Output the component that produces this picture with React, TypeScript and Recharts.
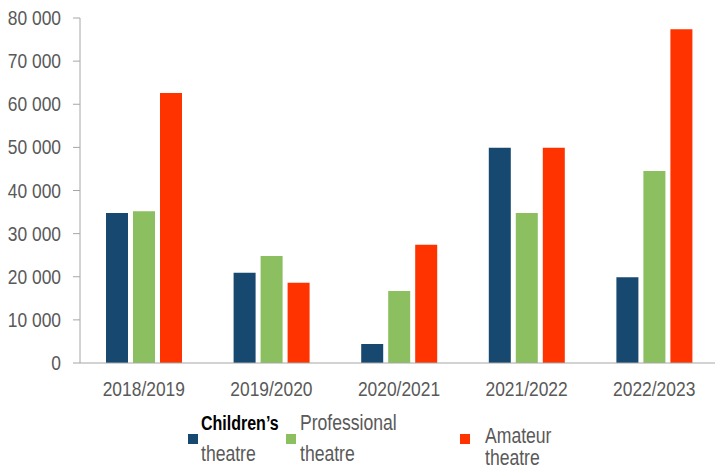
import { BarChart, Bar, XAxis, YAxis, Legend } from 'recharts'

const categories = ['2018/2019', '2019/2020', '2020/2021', '2021/2022', '2022/2023']
const childrens = [34800, 20900, 4400, 49900, 19900]
const professional = [35200, 24800, 16700, 34800, 44500]
const amateur = [62600, 18600, 27400, 49900, 77400]
const yTicks = [0, 10000, 20000, 30000, 40000, 50000, 60000, 70000, 80000]
const sepTicks = [0, 1, 2, 3, 4, 5]

const FONT = '"Liberation Sans", Arial, sans-serif'
const AXIS = '#a6a6a6'
const TEXT = '#595959'
const COLORS = { childrens: '#17486f', professional: '#8bbf5f', amateur: '#ff3300' }
// the reference uses a narrow face; squeeze Liberation Sans horizontally
const SQUEEZE = 0.87

const data = categories.map((name, i) => ({
  name,
  idx: i + 0.5,
  childrens: childrens[i],
  professional: professional[i],
  amateur: amateur[i],
}))

const fmt = (v: number) => (v === 0 ? '0' : `${Math.floor(v / 1000)} ${String(v % 1000).padStart(3, '0')}`)

const YTick = ({ x, y, payload }: any) => (
  <g transform={`translate(${x},${y})`}>
    <text textAnchor="end" dy="0.355em" transform={`scale(${SQUEEZE},1)`} fontSize={20} fill={TEXT} fontFamily={FONT}>
      {fmt(payload.value)}
    </text>
  </g>
)

const XTick = ({ x, y, payload }: any) => (
  <g transform={`translate(${x},${y})`}>
    <text textAnchor="middle" dy="0.71em" transform={`scale(${SQUEEZE},1)`} fontSize={20} fill={TEXT} fontFamily={FONT}>
      {payload.value}
    </text>
  </g>
)

const LegText = ({ x, y, children, bold }: any) => (
  <text
    transform={`translate(${x},${y}) scale(0.8,1)`}
    fontSize={bold ? 20 : 22}
    fontWeight={bold ? 'bold' : 'normal'}
    fill={bold ? '#000' : TEXT}
  >
    {children}
  </text>
)

function LegendBox() {
  return (
    <svg width={715} height={69} style={{ fontFamily: FONT, display: 'block' }}>
      <rect x={188} y={34} width={10} height={10} fill={COLORS.childrens} />
      <LegText x={201} y={30} bold>Children’s</LegText>
      <LegText x={201} y={61}>theatre</LegText>

      <rect x={286} y={34} width={10} height={10} fill={COLORS.professional} />
      <LegText x={300} y={30}>Professional</LegText>
      <LegText x={300} y={61}>theatre</LegText>

      <rect x={460} y={34} width={10} height={10} fill={COLORS.amateur} />
      <LegText x={485} y={43}>Amateur</LegText>
      <LegText x={485} y={65}>theatre</LegText>
    </svg>
  )
}

export default function App() {
  return (
    <div style={{ position: 'absolute', left: 0, top: 0, width: 715, height: 469, background: '#fff' }}>
      <BarChart
        width={715}
        height={469}
        data={data}
        margin={{ top: 18, right: -3, left: 0, bottom: 76 }}
        barCategoryGap="20%"
        barGap={5}
        barSize={22}
        style={{ fontFamily: FONT }}
      >
        <XAxis
          dataKey="name"
          stroke={AXIS}
          tickLine={false}
          tickSize={7}
          tickMargin={12}
          height={30}
          tick={<XTick />}
        />
        <XAxis
          xAxisId="sep"
          type="number"
          dataKey="idx"
          domain={[0, 5]}
          ticks={sepTicks}
          axisLine={false}
          tickLine={{ stroke: AXIS }}
          tickSize={7}
          tickFormatter={() => ''}
          height={0}
        />
        <YAxis
          domain={[0, 80000]}
          ticks={yTicks}
          stroke={AXIS}
          tickSize={7}
          tickMargin={12}
          width={80}
          tick={<YTick />}
        />
        <Legend verticalAlign="middle" align="center" content={() => <LegendBox />} wrapperStyle={{ top: 400, left: 0, width: 715 }} />
        <Bar dataKey="childrens" fill={COLORS.childrens} isAnimationActive={false} />
        <Bar dataKey="professional" fill={COLORS.professional} isAnimationActive={false} />
        <Bar dataKey="amateur" fill={COLORS.amateur} isAnimationActive={false} />
      </BarChart>
    </div>
  )
}
